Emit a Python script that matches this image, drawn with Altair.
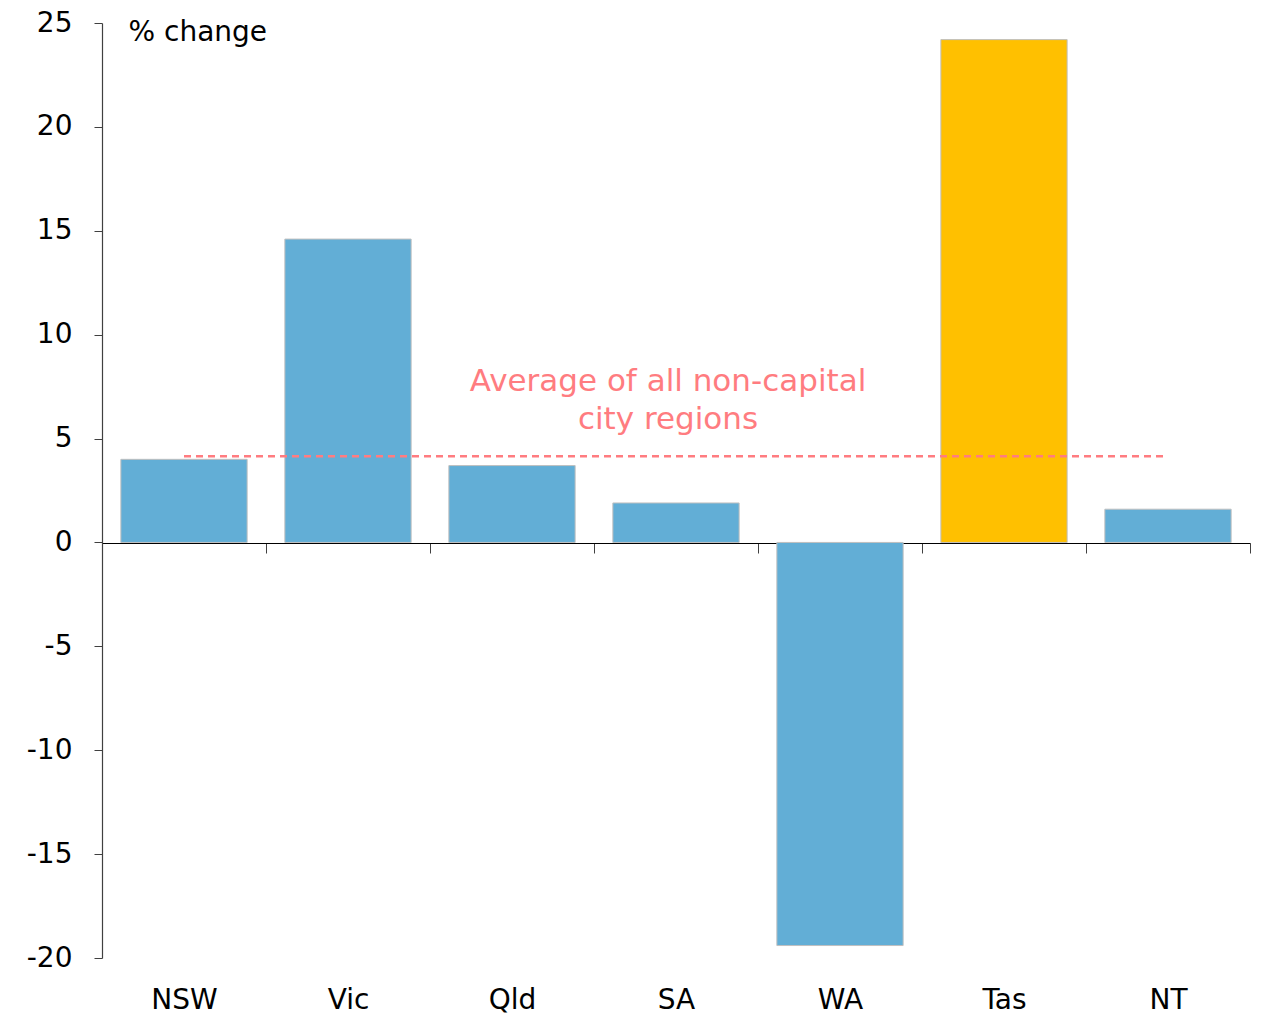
import altair as alt
import pandas as pd

states = ["NSW", "Vic", "Qld", "SA", "WA", "Tas", "NT"]
changes = [4.0, 14.6, 3.7, 1.9, -19.4, 24.2, 1.6]
highlight = ["no", "no", "no", "no", "no", "yes", "no"]
avg_value = 4.15
avg_from, avg_to = "NSW", "NT"
note_lines = ["Average of all non-capital", "city regions"]
note_y = [7.72, 5.9]
note_x = ["SA", "SA"]
y_ticks = [-20, -15, -10, -5, 0, 5, 10, 15, 20, 25]

FONT = "DejaVu Sans"
FS = 28
FS_NOTE = 31
W, H = 1148, 935

df = pd.DataFrame({"state": states, "change": changes, "hl": highlight})
df_avg = pd.DataFrame({"x": [avg_from], "x2": [avg_to], "y": [avg_value]})
df_note = pd.DataFrame({"x": note_x, "y": note_y, "t": note_lines})

xscale = alt.Scale(domain=states, paddingInner=0, paddingOuter=0)
yscale = alt.Scale(domain=[-20, 25], nice=False, zero=False)

bars = alt.Chart(df).mark_bar(stroke="#BFBFBF", strokeWidth=1, width=alt.RelativeBandSize(0.77)).encode(
    x=alt.X("state:N", scale=xscale, sort=states,
            axis=alt.Axis(title=None, orient="bottom", offset=-415, tickBand="extent",
                          labelAngle=0, labelPadding=433, tickSize=10,
                          domainColor="#000000", tickColor="#404040", domainWidth=1.2,
                          labelFont=FONT, labelFontSize=FS, labelColor="#000000",
                          labelBaseline="top")),
    y=alt.Y("change:Q", scale=yscale,
            axis=alt.Axis(values=y_ticks, grid=False, tickSize=8, labelPadding=22,
                          labelExpr="'' + datum.value",
                          domainColor="#404040", tickColor="#404040", domainWidth=1.2,
                          labelFont=FONT, labelFontSize=FS, labelColor="#000000",
                          title="% change", titleAngle=0, titleX=26, titleY=9,
                          titleAlign="left", titleBaseline="middle", titleFont=FONT,
                          titleFontSize=FS, titleFontWeight="normal", titleColor="#000000")),
    color=alt.Color("hl:N", scale=alt.Scale(domain=["no", "yes"], range=["#62AED6", "#FFC000"]),
                    legend=None),
)

avg = alt.Chart(df_avg).mark_rule(color="#FF7C80", strokeDash=[7, 5], strokeWidth=2.5).encode(
    x=alt.X("x:N", scale=xscale, sort=states),
    x2="x2:N",
    y=alt.Y("y:Q", scale=yscale),
)

note = alt.Chart(df_note).mark_text(font=FONT, fontSize=FS_NOTE, color="#FF7C80", dx=-8,
                                    baseline="middle", align="center").encode(
    x=alt.X("x:N", scale=xscale, sort=states),
    y=alt.Y("y:Q", scale=yscale),
    text="t:N",
)

chart = (bars + avg + note).properties(
    width=W, height=H,
    autosize=alt.AutoSizeParams(type="none"),
    padding={"left": 94, "top": 15, "right": 3, "bottom": 61},
).configure_view(stroke=None)

chart.save("out.html", embed_options={"renderer": "svg", "actions": False})
